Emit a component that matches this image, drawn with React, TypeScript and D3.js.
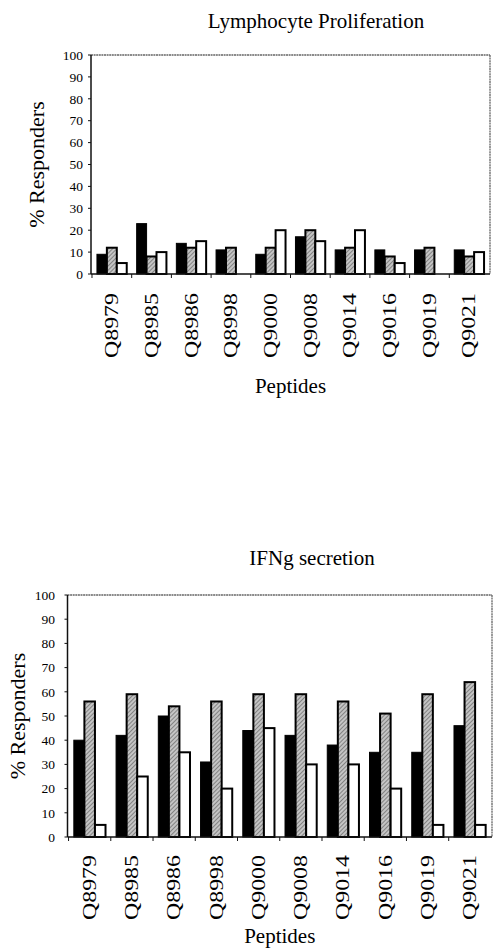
import React from 'react';
import * as d3 from 'd3';

const peptides = ['Q8979', 'Q8985', 'Q8986', 'Q8998', 'Q9000', 'Q9008', 'Q9014', 'Q9016', 'Q9019', 'Q9021'];
const yTicks = [0, 10, 20, 30, 40, 50, 60, 70, 80, 90, 100];

// Lymphocyte proliferation: black, hatched, white bars
const prolifBlack = [9, 23, 14, 11, 9, 17, 11, 11, 11, 11];
const prolifHatched = [12, 8, 12, 12, 12, 20, 12, 8, 12, 8];
const prolifWhite = [5, 10, 15, 0, 20, 15, 20, 5, 0, 10];

// IFNg secretion: black, hatched, white bars
const ifngBlack = [40, 42, 50, 31, 44, 42, 38, 35, 35, 46];
const ifngHatched = [56, 59, 54, 56, 59, 59, 56, 51, 59, 64];
const ifngWhite = [5, 25, 35, 20, 45, 30, 30, 20, 5, 5];

const seriesKeys = ['black', 'hatched', 'white'];
const serif = { fontFamily: "'Liberation Serif', 'DejaVu Serif', 'Times New Roman', serif" };

type Layout = {
  left: number;
  right: number;
  top: number;
  bottom: number;
  titleX: number;
  titleY: number;
  labelTop: number;
  xTitleY: number;
  yTitleX: number;
  tickRight: number;
};

function BarChart({ title, series, lay }: { title: string; series: number[][]; lay: Layout }) {
  const x = d3
    .scaleBand<string>()
    .domain(peptides)
    .range([lay.left, lay.right])
    .paddingInner(0.25)
    .paddingOuter(0.15);
  const inner = d3.scaleBand<string>().domain(seriesKeys).range([0, x.bandwidth()]);
  const y = d3.scaleLinear().domain([0, 100]).range([lay.bottom, lay.top]);

  const fills = ['#000', 'url(#hatch)', '#fff'];
  const tickXs = peptides.map((p) => (x(p) as number) - (x.step() * x.paddingInner()) / 2);

  return (
    <g style={serif}>
      <text x={lay.titleX} y={lay.titleY} textAnchor="middle" fontSize={21}>
        {title}
      </text>

      {/* frame */}
      <line x1={lay.left} x2={lay.right} y1={lay.top} y2={lay.top} stroke="#666" strokeWidth={1.3} strokeDasharray="2 0.6" />
      <line x1={lay.right} x2={lay.right} y1={lay.top} y2={lay.bottom} stroke="#666" strokeWidth={1.3} strokeDasharray="2 0.6" />

      {/* bars */}
      {series.map((vals, si) =>
        peptides.map((p, i) =>
          vals[i] > 0 ? (
            <rect
              key={`${si}-${p}`}
              x={(x(p) as number) + (inner(seriesKeys[si]) as number)}
              y={y(vals[i])}
              width={inner.bandwidth()}
              height={y(0) - y(vals[i])}
              fill={fills[si]}
              stroke="#000"
              strokeWidth={si === 0 ? 1 : 2}
            />
          ) : null
        )
      )}

      {/* axes */}
      <line x1={lay.left} x2={lay.left} y1={lay.top} y2={lay.bottom} stroke="#111" strokeWidth={1.5} />
      <line x1={lay.left} x2={lay.right} y1={lay.bottom} y2={lay.bottom} stroke="#111" strokeWidth={1.5} />
      {yTicks.map((t) => (
        <g key={t}>
          <line x1={lay.left - 3} x2={lay.left} y1={y(t)} y2={y(t)} stroke="#111" strokeWidth={1} />
          <text x={lay.tickRight} y={y(t)} dy="0.35em" textAnchor="end" fontSize={13.5}>
            {t}
          </text>
        </g>
      ))}
      {tickXs.map((tx, i) => (
        <line key={i} x1={tx} x2={tx} y1={lay.bottom} y2={lay.bottom + 4} stroke="#111" strokeWidth={1} />
      ))}
      {peptides.map((p) => {
        const cx = (x(p) as number) + x.bandwidth() / 2;
        return (
          <text
            key={p}
            transform={`translate(${cx},${lay.labelTop}) rotate(-90)`}
            textAnchor="end"
            dy="0.35em"
            fontSize={18}
            textLength={65}
            lengthAdjust="spacingAndGlyphs"
          >
            {p}
          </text>
        );
      })}

      <text x={(lay.left + lay.right) / 2} y={lay.xTitleY} textAnchor="middle" fontSize={21}>
        Peptides
      </text>
      <text
        transform={`translate(${lay.yTitleX},${(lay.top + lay.bottom) / 2}) rotate(-90)`}
        textAnchor="middle"
        dy="0.35em"
        fontSize={22}
      >
        % Responders
      </text>
    </g>
  );
}

export default function App() {
  return (
    <svg width={493} height={948} style={{ position: 'absolute', left: 0, top: 0, background: '#fff' }}>
      <defs>
        <pattern id="hatch" width={3} height={3} patternUnits="userSpaceOnUse" patternTransform="rotate(45)">
          <rect width={3} height={3} fill="#c4c4c4" />
          <line x1={0} y1={0} x2={0} y2={3} stroke="#555" strokeWidth={1.2} />
        </pattern>
      </defs>
      <BarChart
        title="Lymphocyte Proliferation"
        series={[prolifBlack, prolifHatched, prolifWhite]}
        lay={{ left: 91, right: 490, top: 55, bottom: 274, titleX: 316, titleY: 28, labelTop: 293, xTitleY: 393, yTitleX: 36, tickRight: 83 }}
      />
      <BarChart
        title="IFNg secretion"
        series={[ifngBlack, ifngHatched, ifngWhite]}
        lay={{ left: 67.5, right: 492, top: 595, bottom: 837, titleX: 312, titleY: 565, labelTop: 855, xTitleY: 943, yTitleX: 17, tickRight: 55 }}
      />
    </svg>
  );
}
